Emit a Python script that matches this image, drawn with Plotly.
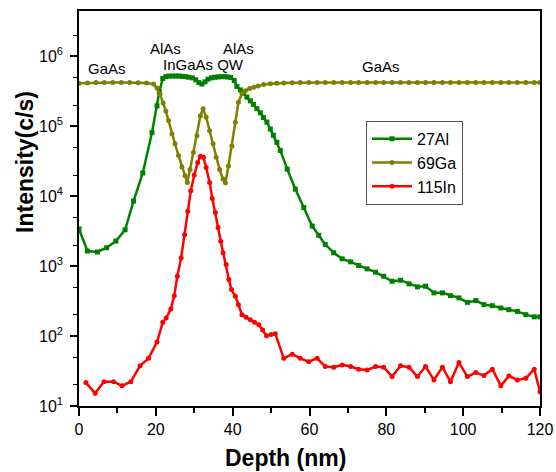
import math
import plotly.graph_objects as go

# ---------------- data ----------------
al_depth = [0.0, 2.2, 4.8, 7.2, 9.6, 12.0, 14.2, 16.6, 19.0, 20.3, 20.9, 21.8, 22.6, 23.4, 24.3,
            25.2, 26.0, 26.9, 27.8, 28.6, 29.5, 30.4, 31.2, 32.0, 32.8, 33.6, 34.5, 35.3, 36.2,
            37.0, 37.9, 38.7, 39.5, 40.4, 41.1, 42.0, 42.8, 43.7, 44.6, 45.4, 46.3, 47.2, 48.0,
            48.9, 49.8, 50.6, 51.5, 52.4, 54.2, 56.3, 58.5, 60.7, 62.4, 64.1, 66.3, 68.5, 70.7,
            72.8, 75.0, 77.2, 79.3, 81.5, 83.7, 85.9, 88.1, 90.2, 92.4, 94.6, 96.7, 98.9, 101.1,
            103.3, 105.4, 107.6, 109.8, 111.9, 114.1, 116.3, 118.5, 120.0]
al_vals = [3400, 1640, 1590, 1830, 2280, 3300, 8500, 21400, 81000, 195000, 310000, 480000, 510000,
           520000, 520000, 520000, 520000, 515000, 510000, 500000, 490000, 460000, 420000, 400000,
           430000, 470000, 490000, 500000, 505000, 510000, 510000, 505000, 495000, 450000, 370000,
           330000, 300000, 260000, 230000, 205000, 178000, 155000, 133000, 114000, 91000, 74000,
           58700, 45000, 24300, 12600, 6860, 3730, 2750, 2040, 1550, 1270, 1150, 1020, 913, 818,
           716, 607, 628, 557, 505, 515, 414, 414, 378, 351, 303, 321, 281, 272, 252, 238, 225,
           202, 188, 188]

ga_depth = [0.0, 2.2, 4.4, 6.6, 8.8, 11.0, 13.2, 15.4, 17.6, 19.4, 20.3, 21.1, 21.9, 22.6, 23.3,
            24.2, 25.0, 25.9, 26.8, 27.6, 28.2, 28.9, 29.8, 30.7, 31.6, 32.3, 33.1, 34.0, 34.9,
            35.7, 36.6, 37.5, 38.1, 38.9, 39.8, 40.7, 41.5, 42.4, 43.3, 44.4, 45.5, 46.6, 48.1,
            49.8, 51.5, 53.3, 55.5, 57.6, 59.8, 62.0, 64.1, 66.3, 68.5, 70.7, 72.8, 75.0, 77.2,
            79.3, 81.5, 83.7, 85.9, 88.1, 90.2, 92.4, 94.6, 96.7, 98.9, 101.1, 103.3, 105.4,
            107.6, 109.8, 111.9, 114.1, 116.3, 118.5, 120.0]
ga_vals = [410000, 415000, 420000, 420000, 420000, 420000, 420000, 418000, 415000, 400000, 350000,
           285000, 215000, 165000, 120000, 77000, 56000, 38000, 26000, 19500, 15700, 24000, 42000,
           73000, 141000, 177000, 134000, 86000, 56000, 36000, 24000, 17500, 15500, 27000, 52000,
           114000, 220000, 290000, 320000, 345000, 360000, 375000, 395000, 405000, 412000, 415000,
           418000, 420000, 420000, 420000, 420000, 420000, 420000, 420000, 420000, 420000, 420000,
           420000, 420000, 420000, 420000, 420000, 420000, 420000, 420000, 420000, 420000, 420000,
           420000, 420000, 420000, 420000, 420000, 420000, 420000, 420000, 420000]

in_depth = [1.8, 4.2, 6.5, 9.0, 11.2, 13.5, 15.9, 18.1, 20.3, 21.8, 22.7, 23.9, 24.8, 25.6, 26.6,
            27.5, 28.3, 29.1, 30.0, 30.9, 31.6, 32.4, 33.1, 34.0, 34.7, 35.5, 36.2, 36.9, 37.5,
            38.3, 39.0, 39.7, 40.7, 41.5, 42.4, 43.5, 44.6, 45.7, 46.8, 47.8, 48.8, 50.0, 51.1,
            53.3, 55.5, 57.6, 59.8, 62.0, 64.1, 66.3, 68.5, 70.7, 72.8, 75.0, 77.2, 79.3, 81.5,
            83.7, 85.9, 88.1, 90.2, 92.4, 94.6, 96.7, 98.9, 101.1, 103.3, 105.4, 107.6, 109.8,
            111.9, 114.1, 116.3, 118.5, 120.0]
in_vals = [21.6, 15.2, 22.3, 22.3, 19.4, 22.3, 37.5, 48, 82, 157, 181, 244, 378, 716, 1315, 2800,
           6100, 11900, 20000, 30300, 37000, 35800, 25700, 15700, 9250, 5820, 3550, 2270, 1550,
           1055, 643, 461, 370, 281, 202, 185, 171, 158, 145, 122, 101, 105, 108, 48, 55, 48, 43,
           48, 36.6, 35.9, 38.7, 36.6, 33.6, 32.8, 36.6, 35.9, 26.3, 37.5, 35.9, 26.3, 36.6, 23.6,
           35.9, 22.3, 41.8, 26.3, 30, 27.2, 33.6, 19.4, 26.9, 23.6, 24.9, 33.6, 16]

series_names = ["27Al", "69Ga", "115In"]
y_tick_vals = [10, 100, 1000, 10000, 100000, 1000000]
y_tick_text = ["10<sup>1</sup>", "10<sup>2</sup>", "10<sup>3</sup>", "10<sup>4</sup>",
               "10<sup>5</sup>", "10<sup>6</sup>"]
x_tick_vals = [0, 20, 40, 60, 80, 100, 120]

label_text = ["GaAs", "AlAs", "InGaAs QW", "AlAs", "GaAs"]
label_x = [7.2, 22.4, 32.5, 41.5, 78.7]
label_y = [6.6e5, 1.3e6, 7.6e5, 1.3e6, 7.2e5]

# ---------------- figure ----------------
FONT = "Liberation Sans, Arial, sans-serif"
fig = go.Figure()
fig.add_trace(go.Scatter(x=al_depth, y=al_vals, name=series_names[0], mode="lines+markers",
                         line=dict(color="#008000", width=2.5),
                         marker=dict(symbol="square", size=5, color="#008000")))
fig.add_trace(go.Scatter(x=ga_depth, y=ga_vals, name=series_names[1], mode="lines+markers",
                         line=dict(color="#808000", width=2.5),
                         marker=dict(symbol="circle", size=5, color="#808000")))
fig.add_trace(go.Scatter(x=in_depth, y=in_vals, name=series_names[2], mode="lines+markers",
                         line=dict(color="#FF0000", width=2.5),
                         marker=dict(symbol="circle", size=5, color="#FF0000")))

for t, x, y in zip(label_text, label_x, label_y):
    fig.add_annotation(x=x, y=math.log10(y), text=t, showarrow=False,
                       xref="x", yref="y", font=dict(family=FONT, size=15, color="black"))

fig.add_annotation(text="<b>Intensity(c/s)</b>", xref="paper", yref="paper",
                   x=-0.117, y=0.618, textangle=-90, showarrow=False,
                   xanchor="center", yanchor="middle",
                   font=dict(family=FONT, size=23, color="black"))
fig.add_annotation(text="<b>Depth (nm)</b>", xref="paper", yref="paper",
                   x=0.447, y=-0.1316, showarrow=False, xanchor="center", yanchor="middle",
                   font=dict(family=FONT, size=23, color="black"))

fig.update_layout(
    width=556, height=472,
    margin=dict(l=79, r=16, t=11, b=66, autoexpand=False),
    paper_bgcolor="white", plot_bgcolor="white",
    font=dict(family=FONT, size=16, color="black"),
    showlegend=True,
    legend=dict(x=0.6226, y=0.722, xanchor="left", yanchor="top",
                bordercolor="#555555", borderwidth=1, bgcolor="white",
                font=dict(family=FONT, size=16, color="black"),
                tracegroupgap=0, itemwidth=40),
)
fig.update_xaxes(range=[0, 120], tickvals=x_tick_vals, ticks="outside", ticklen=8, tickwidth=1.5,
                 tickcolor="black", showline=True, linecolor="black", linewidth=1.5, mirror=True,
                 showgrid=False, zeroline=False, tickfont=dict(family=FONT, size=16),
                 automargin=False,
                 minor=dict(ticks="outside", ticklen=5, tickwidth=1.5, tickcolor="black",
                            dtick=10, showgrid=False))
fig.update_yaxes(type="log", range=[1, 6.646], tickvals=y_tick_vals, ticktext=y_tick_text,
                 ticks="outside", ticklen=7, tickwidth=1.5, tickcolor="black",
                 showline=True, linecolor="black", linewidth=1.5, mirror=True,
                 showgrid=False, zeroline=False, tickfont=dict(family=FONT, size=16),
                 ticklabelstandoff=4, automargin=False,
                 minor=dict(ticks="outside", ticklen=4, tickwidth=1, tickcolor="black",
                            showgrid=False))

fig.write_html("out.html", config={"displayModeBar": False},
               post_script="document.body.style.margin='0';document.body.style.padding='0';")
